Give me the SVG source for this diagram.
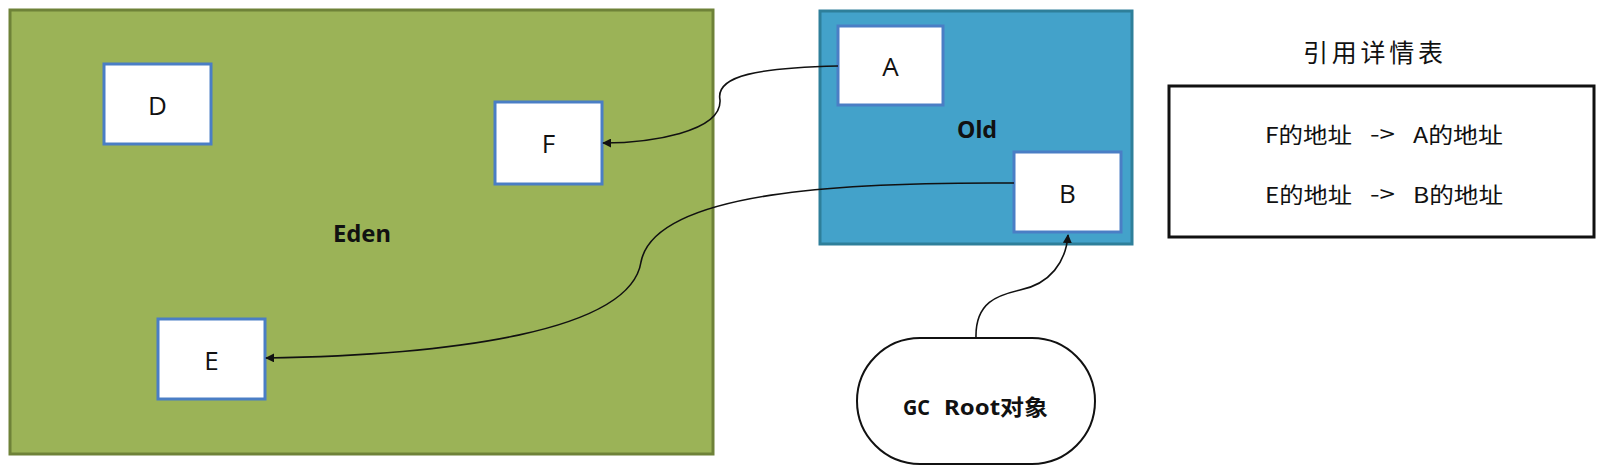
<svg xmlns="http://www.w3.org/2000/svg" width="1608" height="470" viewBox="0 0 1608 470">
<defs>
<style>
.obj{fill:#fff;stroke:#4A7EC5;stroke-width:3}
.lt{font-family:"Open Sans","Noto Sans",sans-serif;font-size:26px;fill:#111;text-anchor:middle;dominant-baseline:central}
.rl{font-family:"Noto Sans","Open Sans",sans-serif;font-weight:bold;font-size:23px;fill:#111;dominant-baseline:central}
.conn{fill:none;stroke:#111;stroke-width:1.6}
.tb{font-family:"Noto Sans CJK SC",sans-serif;font-size:22px;fill:#111;dominant-baseline:central}
.gc{font-family:"Noto Sans","Noto Sans CJK SC",sans-serif;font-weight:bold;font-size:22px;fill:#111;dominant-baseline:central}
</style>
<marker id="ah" viewBox="0 0 10 10" refX="9" refY="5" markerWidth="9" markerHeight="9" markerUnits="userSpaceOnUse" orient="auto">
<path d="M0,0 L10,5 L0,10 z" fill="#111"/>
</marker>
</defs>
<rect width="1608" height="470" fill="#fff"/>
<g id="eden">
<rect x="10" y="10" width="703" height="444" fill="#9BB357" stroke="#6E8238" stroke-width="3"/>
<text class="rl" x="333" y="233" textLength="58" lengthAdjust="spacingAndGlyphs">Eden</text>
</g>
<g id="old">
<rect x="820" y="11" width="312" height="233" fill="#43A2CA" stroke="#2E7F9A" stroke-width="3"/>
<text class="rl" x="957" y="129" textLength="40" lengthAdjust="spacingAndGlyphs">Old</text>
</g>
<g id="nodeD"><rect class="obj" x="104" y="64" width="107" height="80"/><text class="lt" x="157.5" y="105">D</text></g>
<g id="nodeF"><rect class="obj" x="495" y="102" width="107" height="82"/><text class="lt" x="548.5" y="143">F</text></g>
<g id="nodeE"><rect class="obj" x="158" y="319" width="107" height="80"/><text class="lt" x="211.5" y="360">E</text></g>
<g id="nodeA"><rect class="obj" x="838" y="26" width="105" height="79"/><text class="lt" x="890.5" y="66">A</text></g>
<g id="nodeB"><rect class="obj" x="1014" y="152" width="107" height="80"/><text class="lt" x="1067.5" y="193">B</text></g>
<g id="gcroot">
<rect x="857" y="338" width="238" height="126" rx="63" ry="63" fill="#fff" stroke="#111" stroke-width="2"/>
<text class="gc" x="903" y="406" textLength="27" lengthAdjust="spacingAndGlyphs">GC</text>
<text class="gc" x="944" y="406" textLength="104" lengthAdjust="spacingAndGlyphs">Root对象</text>
</g>
<g id="table">
<text x="1303" y="51" font-family="'Noto Sans CJK SC',sans-serif" font-size="25" fill="#111" dominant-baseline="central" textLength="140" lengthAdjust="spacing">引用详情表</text>
<rect x="1169" y="86" width="425" height="151" fill="#fff" stroke="#111" stroke-width="3"/>
<text class="tb" x="1265" y="133" textLength="87" lengthAdjust="spacingAndGlyphs">F的地址</text>
<text class="tb" x="1370" y="132" textLength="25" lengthAdjust="spacingAndGlyphs">-&gt;</text>
<text class="tb" x="1413" y="133" textLength="90" lengthAdjust="spacingAndGlyphs">A的地址</text>
<text class="tb" x="1265" y="193" textLength="87" lengthAdjust="spacingAndGlyphs">E的地址</text>
<text class="tb" x="1370" y="192" textLength="25" lengthAdjust="spacingAndGlyphs">-&gt;</text>
<text class="tb" x="1413" y="193" textLength="90" lengthAdjust="spacingAndGlyphs">B的地址</text>
</g>
<g id="connectors">
<path class="conn" marker-end="url(#ah)" d="M838,66 C760,68 715,75 720,100 C722,132 650,143 603,143"/>
<path class="conn" marker-end="url(#ah)" d="M1014,183 C850,182 655,190 641,262 C630,332 450,355 266,358"/>
<path class="conn" marker-end="url(#ah)" d="M976,338 C975,302 998,295 1020,290 C1050,284 1066,262 1068,235"/>
</g>
</svg>
